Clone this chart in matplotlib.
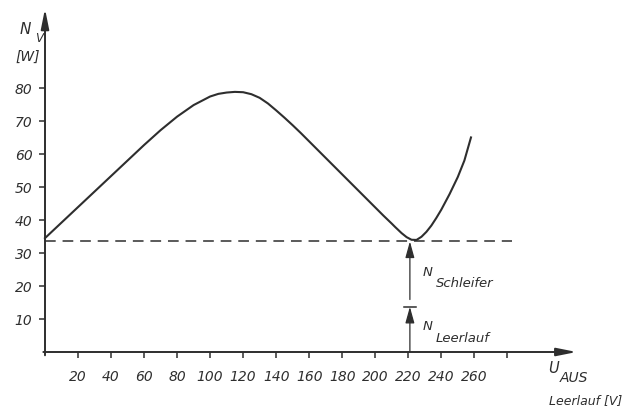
import numpy as np
import matplotlib
matplotlib.use('Agg')
import matplotlib.pyplot as plt

# curve: U_AUS Leerlauf [V] -> N_V [W]
u_volts = [0, 10, 20, 30, 40, 50, 60, 70, 80, 90, 100, 105, 110, 115, 120, 125, 130,
           135, 140, 145, 150, 155, 160, 170, 180, 190, 200, 205, 210, 212, 216, 219,
           222, 225, 228, 231, 234, 237, 240, 245, 250, 254, 258]
n_watts = [34.5, 39.2, 43.9, 48.6, 53.3, 58.0, 62.7, 67.2, 71.3, 74.8, 77.4, 78.2, 78.6,
           78.8, 78.7, 78.1, 77.0, 75.3, 73.2, 71.0, 68.7, 66.3, 63.8, 58.8, 53.8, 48.8,
           43.8, 41.3, 38.9, 37.9, 36.0, 34.8, 34.0, 33.95, 34.9, 36.4, 38.3, 40.6, 43.1,
           47.8, 53.0, 58.0, 65.0]

x_ticks = [20, 40, 60, 80, 100, 120, 140, 160, 180, 200, 220, 240, 260, 280]
x_tick_labels = ['20', '40', '60', '80', '100', '120', '140', '160', '180', '200',
                 '220', '240', '260', '']
y_ticks = [10, 20, 30, 40, 50, 60, 70, 80]

n_leerlauf_level = 33.5   # dashed base line
u_nominal = 221           # where the split arrows sit
split_level = 13.7        # boundary N_Leerlauf / N_Schleifer

ink = '#2e2e2e'
font = dict(family='DejaVu Sans', style='italic', color=ink)

fig = plt.figure(figsize=(6.25, 4.1), dpi=100)
ax = fig.add_axes([45 / 625, 57 / 410, 530 / 625, 340 / 410])
ax.set_xlim(0, 321)
ax.set_ylim(0, 103)
for s in ax.spines.values():
    s.set_visible(False)

# axes with arrow heads
arrow = dict(arrowstyle='-|>,head_length=1.0,head_width=0.2', color=ink, lw=1.4,
             mutation_scale=12, shrinkA=0, shrinkB=0)
ax.annotate('', xy=(0, 104), xytext=(0, -1), arrowprops=arrow, annotation_clip=False)
ax.annotate('', xy=(322, 0), xytext=(-1, 0), arrowprops=arrow, annotation_clip=False)

ax.set_xticks(x_ticks)
ax.set_xticklabels(x_tick_labels)
ax.set_yticks(y_ticks)
ax.tick_params(axis='x', direction='out', length=4, width=1.1, color=ink, pad=8,
               labelsize=10, labelcolor=ink)
ax.tick_params(axis='y', direction='out', length=4, width=1.1, color=ink, pad=5,
               labelsize=10, labelcolor=ink)
for lab in ax.get_xticklabels() + ax.get_yticklabels():
    lab.set_fontstyle('italic')

# curve and dashed base level
ax.plot(u_volts, n_watts, color=ink, lw=1.5, clip_on=False)
ax.plot([0, 283], [n_leerlauf_level, n_leerlauf_level], color=ink, lw=1.1,
        dashes=(7, 4.5), clip_on=False)

# split arrows at nominal voltage
small = dict(arrowstyle='-|>,head_length=0.9,head_width=0.25', color=ink, lw=0.9,
             mutation_scale=11, shrinkA=0, shrinkB=0)
ax.annotate('', xy=(u_nominal, split_level), xytext=(u_nominal, 0), arrowprops=small)
ax.annotate('', xy=(u_nominal, n_leerlauf_level), xytext=(u_nominal, split_level + 2.2),
            arrowprops=small)
ax.plot([u_nominal - 3.5, u_nominal + 3.5], [split_level, split_level], color=ink, lw=1.1)

ax.text(u_nominal + 8, 24.5, 'N', fontsize=9.5, ha='left', va='center', **font)
ax.text(u_nominal + 15.5, 21.2, 'Schleifer', fontsize=9.5, ha='left', va='center', **font)
ax.text(u_nominal + 8, 7.9, 'N', fontsize=9.5, ha='left', va='center', **font)
ax.text(u_nominal + 15.5, 4.5, 'Leerlauf', fontsize=9.5, ha='left', va='center', **font)

# axis titles
ax.text(-12, 98.0, 'N', fontsize=11, ha='center', va='center', clip_on=False, **font)
ax.text(-3.5, 95.4, 'V', fontsize=8.5, ha='center', va='center', clip_on=False, **font)
ax.text(-10.3, 89.7, '[W]', fontsize=10, ha='center', va='center', clip_on=False, **font)

ax.text(308, -4.6, 'U', fontsize=10.5, ha='center', va='center', clip_on=False, **font)
ax.text(311.5, -7.6, 'AUS', fontsize=10, ha='left', va='center', clip_on=False, **font)
ax.text(305, -14.3, 'Leerlauf [V]', fontsize=9, ha='left', va='center', clip_on=False,
        **font)

fig.savefig('out.png', dpi=100)
